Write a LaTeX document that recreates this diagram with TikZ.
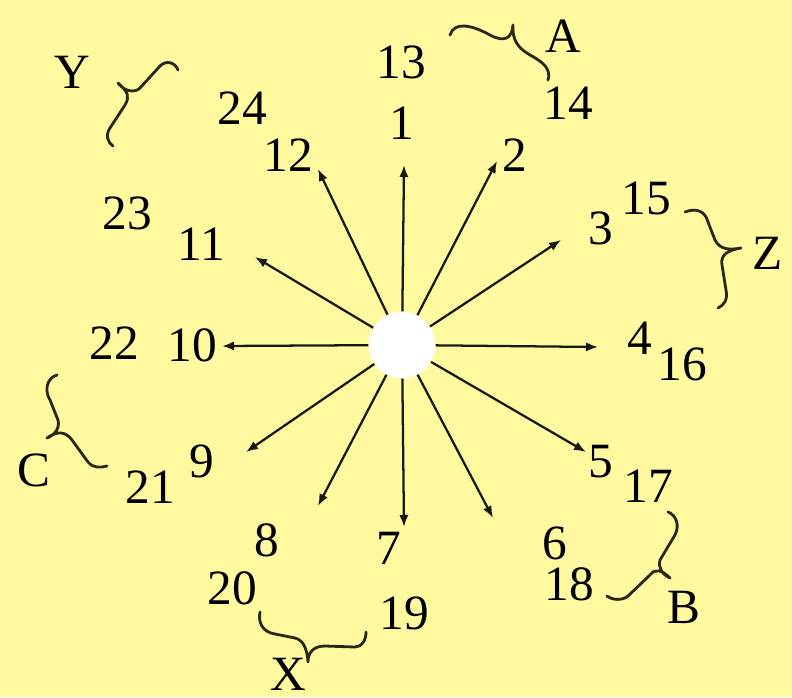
\documentclass[tikz,border=0pt]{standalone}
\usepackage{fontspec}
\setmainfont{Liberation Serif}
\usetikzlibrary{arrows.meta}
\definecolor{bg}{RGB}{255,249,160}
\definecolor{ink}{RGB}{25,25,20}
\definecolor{braceink}{RGB}{40,40,20}
\begin{document}
\begin{tikzpicture}[x=0.75pt,y=-0.75pt,
  lbl/.style={font=\fontsize{37}{40}\selectfont,inner sep=0pt,text=black},
  ray/.style={draw=ink,line width=1.7pt,-{Latex[length=9pt,width=7pt]}},
  bracepath/.style={draw=braceink,line width=2.1pt,line cap=round,line join=round},
  hub/.style={circle,fill=white,draw=none,minimum size=50pt,inner sep=0pt}]
\fill[bg] (0,0) rectangle (792,697);
\useasboundingbox (0,0) rectangle (792,697);
% targets
\coordinate (t1) at (404,165);
\coordinate (t2) at (497,161);
\coordinate (t3) at (561,240);
\coordinate (t4) at (598,347);
\coordinate (t5) at (586,452);
\coordinate (t6) at (493,518);
\coordinate (t7) at (404,527);
\coordinate (t8) at (318,506);
\coordinate (t9) at (246,452);
\coordinate (t10) at (222,346);
\coordinate (t11) at (255,257);
\coordinate (t12) at (318,169);
\node[hub] (c) at (402,345) {};
\foreach \i in {1,...,12}{\draw[ray] (c) -- (t\i);}
% labels
\node[lbl] (l13) at (401,62) {13};
\node[lbl] (l1) at (402,123) {1};
\node[lbl] (l14) at (568,103) {14};
\node[lbl] (l2) at (515,155) {2};
\node[lbl] (l15) at (646,198) {15};
\node[lbl] (l3) at (601,228) {3};
\node[lbl] (lZ) at (768,253) {Z};
\node[lbl] (l4) at (640,338) {4};
\node[lbl] (l16) at (682,364) {16};
\node[lbl] (l5) at (601,462) {5};
\node[lbl] (l17) at (648,486) {17};
\node[lbl] (l6) at (555,543) {6};
\node[lbl] (l18) at (569,584) {18};
\node[lbl] (lB) at (684,607) {B};
\node[lbl] (l7) at (389,548) {7};
\node[lbl] (l19) at (404,613) {19};
\node[lbl] (lX) at (288,674) {X};
\node[lbl] (l8) at (267,540) {8};
\node[lbl] (l20) at (232,588) {20};
\node[lbl] (l9) at (202,461) {9};
\node[lbl] (l21) at (150,487) {21};
\node[lbl] (lC) at (34,470) {C};
\node[lbl] (l10) at (192,345) {10};
\node[lbl] (l22) at (114,343) {22};
\node[lbl] (l11) at (201,244) {11};
\node[lbl] (l23) at (127,213) {23};
\node[lbl] (l12) at (288,155) {12};
\node[lbl] (l24) at (242,108) {24};
\node[lbl] (lY) at (72,72) {Y};
\node[lbl] (lA) at (563,36) {A};
% braces
% A
\path[bracepath] (450,35) .. controls (454,22) and (470,24) .. (490,35)
  .. controls (505,43) and (512,38) .. (513,25)
  .. controls (512,40) and (518,48) .. (530,55)
  .. controls (545,63) and (551,70) .. (548,80);
% Y
\path[bracepath] (178,70) .. controls (175,62) and (166,60) .. (160,66)
  -- (140,88) .. controls (135,93) and (125,92) .. (118,83)
  .. controls (128,92) and (130,96) .. (125,105)
  -- (110,128) .. controls (105,135) and (108,143) .. (113,146);
% C
\path[bracepath] (57,375) .. controls (47,378) and (44,390) .. (50,400)
  -- (58,420) .. controls (60,428) and (55,435) .. (47,438)
  .. controls (58,430) and (66,432) .. (72,440)
  -- (88,462) .. controls (93,468) and (100,468) .. (107,466);
% B
\path[bracepath] (668,512) .. controls (676,515) and (680,525) .. (675,535)
  -- (660,560) .. controls (658,568) and (662,574) .. (670,578)
  .. controls (662,570) and (655,568) .. (650,575)
  -- (628,596) .. controls (622,601) and (612,600) .. (607,596);
% X
\path[bracepath] (260,612) .. controls (258,622) and (262,632) .. (275,634)
  -- (295,638) .. controls (303,640) and (307,648) .. (308,662)
  .. controls (308,652) and (314,646) .. (325,646)
  -- (355,647) .. controls (362,647) and (366,640) .. (366,632);
% Z
\path[bracepath] (685,212) .. controls (695,208) and (705,210) .. (708,222)
  -- (715,240) .. controls (720,250) and (730,250) .. (741,248)
  .. controls (728,250) and (720,255) .. (722,265)
  -- (726,290) .. controls (728,300) and (724,305) .. (718,308);
\end{tikzpicture}
\end{document}
